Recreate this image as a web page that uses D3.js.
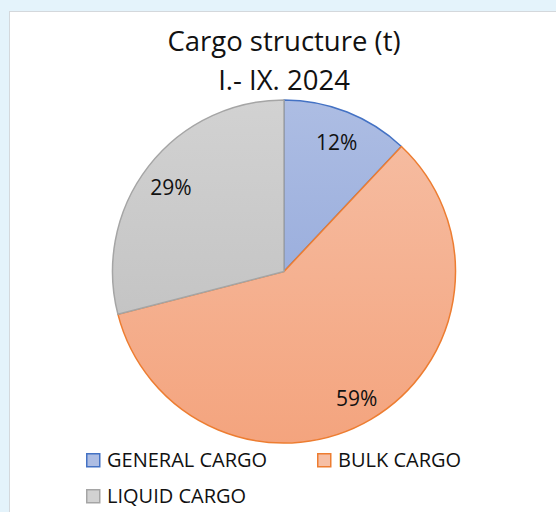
<!DOCTYPE html>
<html>
<head>
<meta charset="utf-8">
<script src="https://cdn.jsdelivr.net/npm/d3@7"></script>
<style>
  body { margin: 0; background: #e4f3fb; }
  svg { display: block; font-family: 'Open Sans', 'Noto Sans', sans-serif; }
</style>
</head>
<body>
<svg></svg>
<script>
const categories = ['GENERAL CARGO', 'BULK CARGO', 'LIQUID CARGO'];
const shares = [12, 59, 29];
const fillTop = ['#adbde3', '#f6bfa5', '#d2d2d2'];
const fillBottom = ['#8aa1d8', '#f4a47e', '#bcbcbc'];
const strokes = ['#4472c4', '#ed7d31', '#a5a5a5'];

const svg = d3.select('svg')
	.attr('width', 556)
	.attr('height', 512);

const width = +svg.attr('width'),
	height = +svg.attr('height');

const data = categories.map((c, i) => ({ name: c, value: shares[i], i }));

// Background panel
svg.append('rect')
	.attr('x', 9.5).attr('y', 11.5)
	.attr('width', width).attr('height', height)
	.attr('fill', '#ffffff')
	.attr('stroke', '#d4d8dc');

const defs = svg.append('defs');
data.forEach(d => {
	const grad = defs.append('linearGradient')
		.attr('id', `grad${d.i}`)
		.attr('gradientUnits', 'userSpaceOnUse')
		.attr('x1', 0).attr('y1', -172)
		.attr('x2', 0).attr('y2', 172);
	grad.append('stop').attr('offset', '0%').attr('stop-color', fillTop[d.i]);
	grad.append('stop').attr('offset', '100%').attr('stop-color', fillBottom[d.i]);
});

// Title
const title = svg.append('text')
	.attr('text-anchor', 'middle')
	.attr('font-size', 27.5)
	.attr('fill', '#111');
title.append('tspan').attr('x', 284).attr('y', 51).text('Cargo structure (t)');
title.append('tspan').attr('x', 284).attr('y', 90).text('I.- IX. 2024');

// Pie
const cx = 284, cy = 271.5, radius = 171.5;
const pie = d3.pie().sort(null).value(d => d.value);
const arc = d3.arc().innerRadius(0).outerRadius(radius);

const g = svg.append('g')
	.attr('transform', `translate(${cx}, ${cy})`);

const arcs = pie(data);

g.selectAll('path')
	.data(arcs)
	.join('path')
	.attr('d', arc)
	.attr('fill', d => `url(#grad${d.data.i})`)
	.attr('stroke', d => strokes[d.data.i])
	.attr('stroke-width', 1.5)
	.attr('stroke-linejoin', 'round');

// Labels
const labelArc = d3.arc().innerRadius(143).outerRadius(143);
g.selectAll('text')
	.data(arcs)
	.join('text')
	.attr('transform', d => `translate(${labelArc.centroid(d)})`)
	.attr('text-anchor', 'middle')
	.attr('dy', '0.55em')
	.attr('font-size', 21)
	.attr('fill', '#111')
	.text(d => `${d.data.value}%`);

// Legend
const legendPos = [[86, 453], [317, 453], [86, 489]];
const legend = svg.append('g');
const items = legend.selectAll('g')
	.data(data)
	.join('g')
	.attr('transform', d => `translate(${legendPos[d.i][0]}, ${legendPos[d.i][1]})`);

items.append('rect')
	.attr('x', 0.75).attr('y', 0.75)
	.attr('width', 13).attr('height', 13)
	.attr('fill', d => fillTop[d.i])
	.attr('stroke', d => strokes[d.i])
	.attr('stroke-width', 1.5);

items.append('text')
	.attr('x', 21)
	.attr('y', 14)
	.attr('font-size', 20)
	.attr('fill', '#111')
	.text(d => d.name);
</script>
</body>
</html>
